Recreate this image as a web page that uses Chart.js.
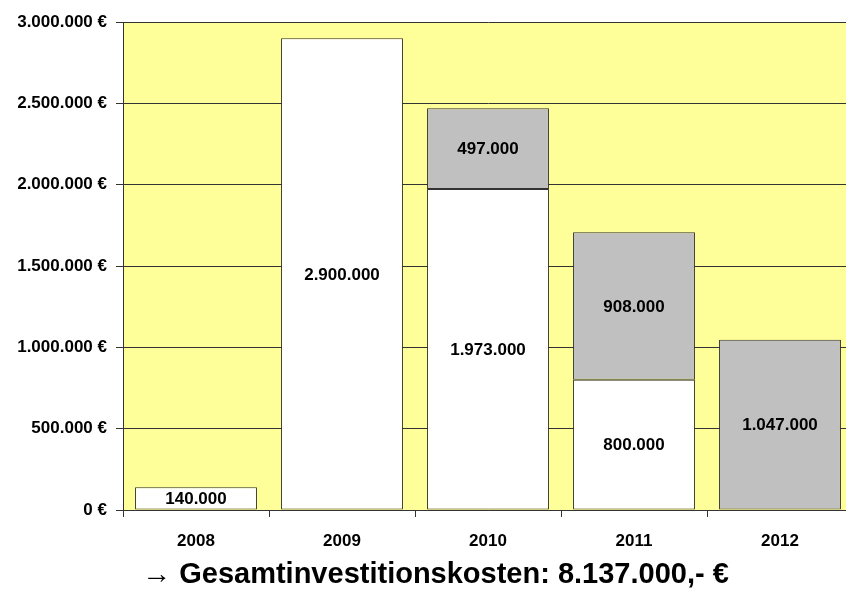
<!DOCTYPE html>
<html>
<head>
<meta charset="utf-8">
<script src="https://cdn.jsdelivr.net/npm/chart.js@4"></script>
<style>
  html, body { margin: 0; padding: 0; background: #ffffff; overflow: hidden; }
  #wrap { width: 870px; height: 605px; }
</style>
</head>
<body>
<div id="wrap"><canvas id="c" width="870" height="605"></canvas></div>
<script>
// ---- data ----
const years = ['2008', '2009', '2010', '2011', '2012'];
const whiteValues = [140000, 2900000, 1973000, 800000, null];
const greyValues = [null, null, 497000, 908000, 1047000];
const yTicks = [0, 500000, 1000000, 1500000, 2000000, 2500000, 3000000];
const titleText = '\u2192 Gesamtinvestitionskosten: 8.137.000,- \u20AC';

const FONT = "'Liberation Sans', Arial, Helvetica, sans-serif";
const LINE = '#333333';

function fmt(n) {
  return String(n).replace(/\B(?=(\d{3})+(?!\d))/g, '.');
}

const plotBg = {
  id: 'plotBg',
  beforeDraw(chart) {
    const a = chart.chartArea, ctx = chart.ctx;
    ctx.save();
    ctx.fillStyle = '#FFFF99';
    ctx.fillRect(a.left, a.top, a.right - a.left, a.bottom - a.top);
    ctx.restore();
  }
};

const barLabels = {
  id: 'barLabels',
  afterDatasetsDraw(chart) {
    const ctx = chart.ctx;
    ctx.save();
    ctx.font = 'bold 17px ' + FONT;
    ctx.fillStyle = '#000';
    ctx.textAlign = 'center';
    ctx.textBaseline = 'middle';
    chart.data.datasets.forEach((ds, i) => {
      const meta = chart.getDatasetMeta(i);
      meta.data.forEach((el, j) => {
        const v = ds.data[j];
        if (v === null || v === undefined) return;
        const p = el.getProps(['x', 'y', 'base'], true);
        ctx.fillText(fmt(v), p.x, (p.y + p.base) / 2 + 1);
      });
    });
    ctx.restore();
  }
};

new Chart(document.getElementById('c'), {
  type: 'bar',
  data: {
    labels: years,
    datasets: [
      { data: whiteValues, backgroundColor: '#FFFFFF', borderColor: LINE, borderWidth: 1, borderSkipped: false },
      { data: greyValues, backgroundColor: '#C0C0C0', borderColor: LINE, borderWidth: 1, borderSkipped: false }
    ]
  },
  options: {
    responsive: false,
    animation: false,
    devicePixelRatio: 1,
    layout: { padding: { top: 22, right: 17, left: 18, bottom: 0 } },
    datasets: { bar: { categoryPercentage: 1, barPercentage: 0.835 } },
    plugins: {
      legend: { display: false },
      tooltip: { enabled: false },
      title: {
        display: true,
        position: 'bottom',
        text: titleText,
        color: '#000',
        font: { family: FONT, size: 29, weight: 'bold' },
        padding: { top: 0, bottom: 13 }
      }
    },
    scales: {
      x: {
        stacked: true,
        afterFit(s) { s.height = 47.2; },
        grid: { display: true, offset: true, drawOnChartArea: false, drawTicks: true, tickLength: 7, color: LINE, lineWidth: 1 },
        border: { display: true, color: LINE, width: 1 },
        ticks: { color: '#000', padding: 14, font: { family: FONT, size: 17, weight: 'bold' } }
      },
      y: {
        stacked: true,
        min: 0,
        max: 3000000,
        afterFit(s) { s.width = 105; },
        afterBuildTicks(s) { s.ticks = yTicks.map(v => ({ value: v })); },
        grid: { display: true, drawOnChartArea: true, drawTicks: true, tickLength: 7, color: LINE, lineWidth: 1 },
        border: { display: true, color: LINE, width: 1 },
        ticks: {
          color: '#000', padding: 9,
          font: { family: FONT, size: 17, weight: 'bold' },
          callback: v => fmt(v) + ' \u20AC'
        }
      }
    }
  },
  plugins: [plotBg, barLabels]
});
</script>
</body>
</html>
